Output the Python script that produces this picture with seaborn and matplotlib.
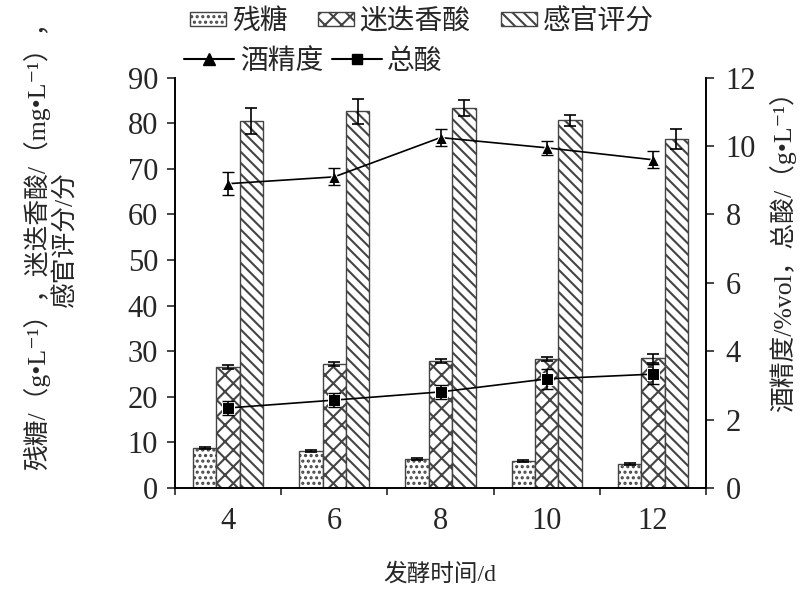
import seaborn as sns
import matplotlib.pyplot as plt
import matplotlib.patches as mpatches
import matplotlib.lines as mlines
import pandas as pd
import numpy as np

days = ['4', '6', '8', '10', '12']
sugar = [8.8, 8.1, 6.4, 5.9, 5.3]
sugar_err = [0.2, 0.2, 0.2, 0.2, 0.2]
rosmarinic = [26.6, 27.2, 27.9, 28.3, 28.5]
rosmarinic_err = [0.4, 0.4, 0.4, 0.5, 1.0]
sensory = [80.5, 82.6, 83.3, 80.7, 76.6]
sensory_err = [2.9, 2.8, 1.8, 1.2, 2.2]
alcohol = [8.9, 9.1, 10.25, 9.95, 9.6]
alcohol_err = [0.33, 0.25, 0.25, 0.2, 0.25]
acid = [2.34, 2.57, 2.81, 3.19, 3.33]
acid_err = [0.2, 0.2, 0.2, 0.3, 0.3]

bar_names = ['残糖', '迷迭香酸', '感官评分']
hatches = ['...', 'xx', '\\\\\\']

sns.set_style('ticks')
plt.rcParams['font.family'] = ['Liberation Serif', 'Noto Sans CJK SC', 'DejaVu Sans']
plt.rcParams['hatch.linewidth'] = 1.5
plt.rcParams['hatch.color'] = 'black'

df = pd.DataFrame({
    'day': days * 3,
    'value': sugar + rosmarinic + sensory,
    'kind': [n for n in bar_names for _ in days],
})

fig = plt.figure(figsize=(8.09, 5.98), dpi=100)
ax = fig.add_axes([0.216, 0.184, 0.657, 0.686])

sns.barplot(data=df, x='day', y='value', hue='kind', order=days, hue_order=bar_names,
            width=0.66, palette=['white'] * 3, edgecolor='#444444', linewidth=1.0,
            errorbar=None, legend=False, ax=ax)

errs = [sugar_err, rosmarinic_err, sensory_err]
for cont, h, err in zip(ax.containers, hatches, errs):
    xs, ys = [], []
    for p in cont.patches:
        p.set_hatch(h)
        xs.append(p.get_x() + p.get_width() / 2)
        ys.append(p.get_height())
    ax.errorbar(xs, ys, yerr=err, fmt='none', ecolor='black', elinewidth=1.2,
                capsize=4, capthick=1.2)

ax2 = ax.twinx()
pos = np.arange(len(days))
sns.lineplot(x=pos, y=alcohol, marker='^', markersize=9, color='black', linewidth=1.2, ax=ax2)
sns.lineplot(x=pos, y=acid, marker='s', markersize=8, color='black', linewidth=1.2, ax=ax2)
ax2.errorbar(pos, alcohol, yerr=alcohol_err, fmt='none', ecolor='black', elinewidth=1.2, capsize=4)
ax2.errorbar(pos, acid, yerr=acid_err, fmt='none', ecolor='black', elinewidth=1.2, capsize=4)

ax.set_xlim(-0.5, len(days) - 0.5)
ax.set_ylim(0, 90)
ax.set_yticks(range(0, 91, 10))
ax2.set_ylim(0, 12)
ax2.set_yticks(range(0, 13, 2))

ax.set_xticks(np.arange(len(days) + 1) - 0.5)
ax.set_xticklabels([])
ax.set_xticks(pos, minor=True)
ax.set_xticklabels(days, minor=True)
ax.tick_params(axis='x', which='minor', length=0, labelsize=22, pad=14)
ax.tick_params(axis='x', which='major', length=5, width=1.2)
ax.tick_params(axis='y', labelsize=22, length=6, width=1.2, pad=6)
ax2.tick_params(axis='y', labelsize=22, length=6, width=1.2, pad=8)

for a in (ax, ax2):
    a.spines['top'].set_visible(False)
    for s in ('left', 'right', 'bottom'):
        a.spines[s].set_linewidth(1.2)
        a.spines[s].set_color('black')
ax.set_xlabel('')
ax.set_ylabel('')
ax2.set_ylabel('')

fig.text(0.544, 0.040, '发酵时间/d', ha='center', va='center', fontsize=17)
fig.text(0.062, 0.60, '残糖/（g•L⁻¹），迷迭香酸/（mg•L⁻¹），\n感官评分/分',
         rotation=90, ha='center', va='center', multialignment='center', fontsize=18.5,
         linespacing=1.2)
fig.text(0.967, 0.59, '酒精度/%vol，总酸/（g•L⁻¹）', rotation=90,
         ha='center', va='center', fontsize=18.5)

bar_handles = [mpatches.Patch(facecolor='white', edgecolor='#444444', hatch=h, label=n)
               for h, n in zip(hatches, bar_names)]
fig.legend(handles=bar_handles, loc='center left', bbox_to_anchor=(0.235, 0.963),
           ncol=3, frameon=False, fontsize=20, handlelength=1.3, handleheight=0.4,
           handletextpad=0.2, columnspacing=1.1, borderaxespad=0, borderpad=0)
line_handles = [mlines.Line2D([], [], color='black', marker='^', markersize=8, label='酒精度'),
                mlines.Line2D([], [], color='black', marker='s', markersize=7, label='总酸')]
fig.legend(handles=line_handles, loc='center left', bbox_to_anchor=(0.228, 0.896),
           ncol=2, frameon=False, fontsize=20, handlelength=1.8,
           handletextpad=0.2, columnspacing=0.3, borderaxespad=0, borderpad=0)

fig.savefig('out.png', dpi=100)
